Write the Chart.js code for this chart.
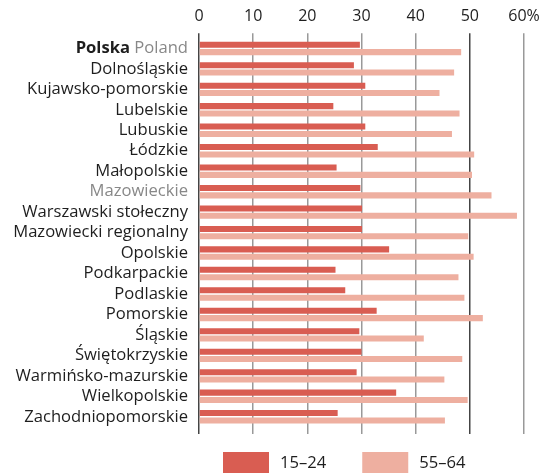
<!DOCTYPE html>
<html>
<head>
<meta charset="utf-8">
<script src="https://cdn.jsdelivr.net/npm/chart.js@4/dist/chart.umd.min.js"></script>
<style>
  html, body { margin: 0; padding: 0; background: #fff; }
  #wrap { width: 550px; height: 473px; }
</style>
</head>
<body>
<div id="wrap"><canvas id="regionChart"></canvas></div>
<script>
const regions = [
  'Polska Poland', 'Dolnośląskie', 'Kujawsko-pomorskie', 'Lubelskie', 'Lubuskie',
  'Łódzkie', 'Małopolskie', 'Mazowieckie', 'Warszawski stołeczny', 'Mazowiecki regionalny',
  'Opolskie', 'Podkarpackie', 'Podlaskie', 'Pomorskie', 'Śląskie',
  'Świętokrzyskie', 'Warmińsko-mazurskie', 'Wielkopolskie', 'Zachodniopomorskie'
];
const age15to24 = [29.7, 28.6, 30.7, 24.8, 30.7, 33.0, 25.4, 29.8, 30.1, 30.1,
                   35.1, 25.2, 27.0, 32.8, 29.6, 30.0, 29.1, 36.4, 25.6];
const age55to64 = [48.4, 47.1, 44.4, 48.1, 46.7, 50.8, 50.4, 54.0, 58.7, 49.7,
                   50.7, 47.9, 49.0, 52.4, 41.5, 48.6, 45.3, 49.6, 45.4];
const seriesNames = ['15–24', '55–64'];
const xTicks = [0, 10, 20, 30, 40, 50, 60];

const darkRed = '#d95d52';
const lightRed = '#eeafa0';
const textColor = '#1e1e1e';
const fontFamily = "'Open Sans', 'Noto Sans', sans-serif";
const labelFont = '16.6px ' + fontFamily;

// left labels drawn by hand so "Polska Poland" can mix bold and grey
const regionLabels = {
  id: 'regionLabels',
  afterDraw(chart) {
    const ctx = chart.ctx;
    const y = chart.scales.y;
    const right = chart.chartArea.left - 11;
    ctx.save();
    ctx.textAlign = 'right';
    ctx.textBaseline = 'middle';
    regions.forEach((name, i) => {
      const py = y.getPixelForTick(i);
      if (i === 0) {
        const [bold, rest] = name.split(' ');
        ctx.font = labelFont;
        ctx.fillStyle = '#888';
        ctx.fillText(rest, right, py);
        const w = ctx.measureText(' ' + rest).width;
        ctx.font = 'bold ' + labelFont;
        ctx.fillStyle = textColor;
        ctx.fillText(bold, right - w, py);
      } else {
        ctx.font = labelFont;
        ctx.fillStyle = name === 'Mazowieckie' ? '#888' : textColor;
        ctx.fillText(name, right, py);
      }
    });
    ctx.restore();
  }
};

const boxLegend = {
  id: 'boxLegend',
  afterDraw(chart) {
    const ctx = chart.ctx;
    let x = chart.chartArea.left + 24;
    const top = chart.height - 21;
    ctx.save();
    ctx.font = labelFont;
    ctx.textBaseline = 'middle';
    ctx.textAlign = 'left';
    chart.data.datasets.forEach(ds => {
      ctx.fillStyle = ds.backgroundColor;
      ctx.fillRect(x, top, 46, 21);
      ctx.fillStyle = textColor;
      ctx.fillText(ds.label, x + 57, top + 11);
      x += 57 + ctx.measureText(ds.label).width + 36;
    });
    ctx.restore();
  }
};

const gridColor = (c) => (c.tick && (c.tick.value === 0 || c.tick.value === 50)) ? '#444' : '#999';

document.addEventListener('DOMContentLoaded', () => {
  const ctx = document.getElementById('regionChart').getContext('2d');
  new Chart(ctx, {
    type: 'bar',
    data: {
      labels: regions,
      datasets: [
        { label: seriesNames[0], data: age15to24, backgroundColor: darkRed },
        { label: seriesNames[1], data: age55to64, backgroundColor: lightRed }
      ]
    },
    options: {
      indexAxis: 'y',
      responsive: true,
      maintainAspectRatio: false,
      animation: false,
      categoryPercentage: 0.72,
      barPercentage: 0.82,
      layout: { padding: { top: 0, right: 26, bottom: 39, left: 0 } },
      plugins: {
        legend: { display: false },
        tooltip: { enabled: false }
      },
      scales: {
        x: {
          position: 'top',
          min: 0,
          max: 60,
          afterBuildTicks: (s) => { s.ticks = xTicks.map(v => ({ value: v })); },
          ticks: {
            color: textColor,
            padding: 7,
            font: { family: fontFamily, size: 16 },
            callback: (v) => v === 60 ? '60%' : String(v)
          },
          grid: { color: gridColor, lineWidth: 1.5, tickLength: 5 },
          border: { display: false }
        },
        x2: {
          position: 'bottom',
          axis: 'x',
          min: 0,
          max: 60,
          afterBuildTicks: (s) => { s.ticks = xTicks.map(v => ({ value: v })); },
          ticks: { display: false },
          grid: { color: gridColor, lineWidth: 1.5, tickLength: 7, drawOnChartArea: false },
          border: { display: false }
        },
        y: {
          ticks: { display: false },
          grid: { display: false },
          border: { display: false },
          afterFit: (s) => { s.width = 199; }
        }
      }
    },
    plugins: [regionLabels, boxLegend]
  });
});
</script>
</body>
</html>
